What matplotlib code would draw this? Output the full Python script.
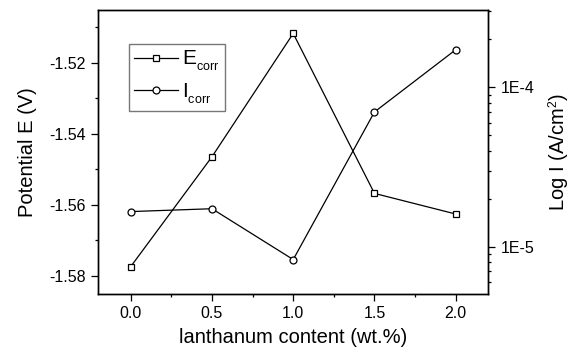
import matplotlib
matplotlib.use("Agg")
import matplotlib.pyplot as plt
from matplotlib.ticker import MultipleLocator, LogLocator, FixedLocator, FixedFormatter, NullFormatter

try:
    import matplotlib._mathtext as _mt
    _mt.SHRINK_FACTOR = 0.6
    _mt.FontConstantsBase.sub1 = 0.55
    _mt.FontConstantsBase.sub2 = 0.75
    _mt.FontConstantsBase.subdrop = 0.55
except Exception:
    pass

plt.rcParams['font.family'] = ['Liberation Sans', 'DejaVu Sans']
plt.rcParams['mathtext.fontset'] = 'custom'
plt.rcParams['mathtext.rm'] = 'Liberation Sans'
plt.rcParams['mathtext.it'] = 'Liberation Sans'

la_content = [0.0, 0.5, 1.0, 1.5, 2.0]
e_corr = [-1.5774, -1.5465, -1.5118, -1.5568, -1.5626]
i_corr = [1.66e-5, 1.73e-5, 8.3e-6, 7.0e-5, 1.72e-4]
x_ticks = [0.0, 0.5, 1.0, 1.5, 2.0]
x_tick_labels = ['0.0', '0.5', '1.0', '1.5', '2.0']
e_ticks = [-1.58, -1.56, -1.54, -1.52]
e_tick_labels = ['-1.58', '-1.56', '-1.54', '-1.52']
i_ticks = [1e-5, 1e-4]
i_tick_labels = ['1E-5', '1E-4']

fig = plt.figure(figsize=(5.71, 3.54), dpi=100)
ax = fig.add_axes([0.172, 0.1695, 0.683, 0.8023])
ax2 = ax.twinx()

l1, = ax.plot(la_content, e_corr, color='black', lw=0.9, marker='s', ms=5,
              mfc='white', mec='black', mew=0.9, label=r'E$_{\mathrm{corr}}$')
l2, = ax2.plot(la_content, i_corr, color='black', lw=0.9, marker='o', ms=5,
               mfc='white', mec='black', mew=0.9, label=r'I$_{\mathrm{corr}}$')

ax.set_xlim(-0.2, 2.2)
ax.set_ylim(-1.5851, -1.5052)
ax2.set_yscale('log')
ax2.set_ylim(10**-5.297, 10**-3.515)

ax.xaxis.set_major_locator(FixedLocator(x_ticks))
ax.xaxis.set_major_formatter(FixedFormatter(x_tick_labels))
ax.xaxis.set_minor_locator(MultipleLocator(0.25))
ax.yaxis.set_major_locator(FixedLocator(e_ticks))
ax.yaxis.set_major_formatter(FixedFormatter(e_tick_labels))
ax.yaxis.set_minor_locator(MultipleLocator(0.01))
ax2.yaxis.set_major_locator(FixedLocator(i_ticks))
ax2.yaxis.set_major_formatter(FixedFormatter(i_tick_labels))
ax2.yaxis.set_minor_locator(LogLocator(base=10, subs=range(2, 10)))
ax2.yaxis.set_minor_formatter(NullFormatter())

for a in (ax, ax2):
    a.tick_params(which='major', direction='out', length=5, width=0.9, labelsize=11.5, colors='black', pad=4)
    a.tick_params(which='minor', direction='out', length=2.5, width=0.9)
    for s in a.spines.values():
        s.set_linewidth(1.0)
ax.tick_params(axis='y', right=False)
ax2.tick_params(axis='y', left=False)

ax.set_xlabel('lanthanum content (wt.%)', fontsize=14.5, labelpad=5)
ax.set_ylabel('Potential E (V)', fontsize=14.5, labelpad=9)
ax2.set_ylabel(r'Log I (A/cm$^{2}$)', fontsize=14.5, labelpad=9)

leg = ax.legend(handles=[l1, l2], loc='upper left', bbox_to_anchor=(0.079, 0.880),
                borderaxespad=0, fontsize=15, frameon=True, fancybox=False,
                edgecolor='#555555', handlelength=2.1, handletextpad=0.2,
                labelspacing=0.4, borderpad=0.25)
leg.get_frame().set_linewidth(1.0)

fig.savefig('out.png', dpi=100)
